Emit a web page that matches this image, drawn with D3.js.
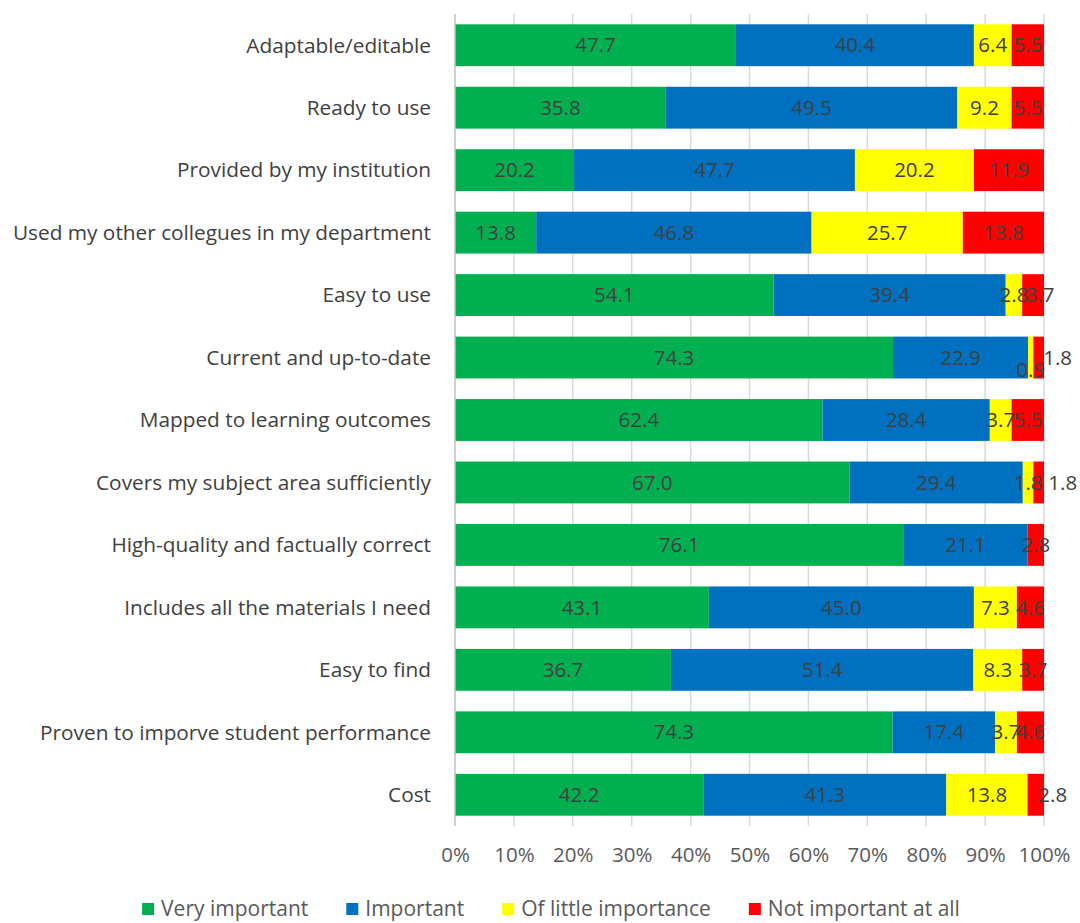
<!DOCTYPE html>
<html>
<head>
<meta charset="utf-8">
<script src="https://cdn.jsdelivr.net/npm/d3@7"></script>
<style>
  body { margin: 0; background: #fff; }
  svg text { font-family: "Open Sans", "Noto Sans", sans-serif; }
</style>
</head>
<body>
<div id="chart"></div>
<script>
var categories = ["Adaptable/editable", "Ready to use", "Provided by my institution",
  "Used my other collegues in my department", "Easy to use", "Current and up-to-date",
  "Mapped to learning outcomes", "Covers my subject area sufficiently",
  "High-quality and factually correct", "Includes all the materials I need",
  "Easy to find", "Proven to imporve student performance", "Cost"];

var seriesNames = ["Very important", "Important", "Of little importance", "Not important at all"];

var veryImportant = [47.7, 35.8, 20.2, 13.8, 54.1, 74.3, 62.4, 67.0, 76.1, 43.1, 36.7, 74.3, 42.2];
var important     = [40.4, 49.5, 47.7, 46.8, 39.4, 22.9, 28.4, 29.4, 21.1, 45.0, 51.4, 17.4, 41.3];
var littleImp     = [6.4, 9.2, 20.2, 25.7, 2.8, 0.9, 3.7, 1.8, 0, 7.3, 8.3, 3.7, 13.8];
var notImportant  = [5.5, 5.5, 11.9, 13.8, 3.7, 1.8, 5.5, 1.8, 2.8, 4.6, 3.7, 4.6, 2.8];

var tickValues = [0, 0.1, 0.2, 0.3, 0.4, 0.5, 0.6, 0.7, 0.8, 0.9, 1];

var colors = ["#00b050", "#0070c0", "#ffff00", "#ff0000"];

// label nudges for the crowded little segments (row, series, dx, dy)
var nudges = [[4, 3, 7, 0], [5, 2, 0, 12], [5, 3, 19, 0], [7, 3, 24, 0], [12, 3, 17, 0]];

var margin = {top: 14, right: 36, bottom: 97, left: 455},
    width = 1080 - margin.left - margin.right,
    height = 923 - margin.top - margin.bottom;

var svg = d3.select("#chart")
  .append("svg")
    .attr("width", 1080)
    .attr("height", 923)
  .append("g")
    .attr("transform", "translate(" + margin.left + "," + margin.top + ")");

var rows = categories.map(function(c, i) {
  var vals = [veryImportant[i], important[i], littleImp[i], notImportant[i]];
  var total = d3.sum(vals);
  var x0 = 0;
  return {cat: c, segs: vals.map(function(v, k) {
    var s = {row: i, key: k, value: v, x0: x0 / total, x1: (x0 + v) / total};
    x0 += v;
    return s;
  })};
});

var x = d3.scaleLinear().domain([0, 1]).range([0, width]);
var y = d3.scaleBand().domain(categories).range([0, height]).paddingInner(0.33).paddingOuter(0.165);

// gridlines
svg.append("g")
  .selectAll("line")
  .data(tickValues.slice(1))
  .enter().append("line")
    .attr("x1", function(d) { return x(d); })
    .attr("x2", function(d) { return x(d); })
    .attr("y1", 0)
    .attr("y2", height)
    .attr("stroke", "#d9d9d9")
    .attr("stroke-width", 1.5);

var row = svg.append("g")
  .selectAll("g")
  .data(rows)
  .enter().append("g")
    .attr("transform", function(d) { return "translate(0," + y(d.cat) + ")"; });

row.selectAll("rect")
  .data(function(d) { return d.segs; })
  .enter().append("rect")
    .attr("x", function(d) { return x(d.x0); })
    .attr("width", function(d) { return x(d.x1) - x(d.x0); })
    .attr("height", y.bandwidth())
    .attr("fill", function(d) { return colors[d.key]; });

function nudge(d, idx) {
  var n = nudges.filter(function(a) { return a[0] === d.row && a[1] === d.key; })[0];
  return n ? n[idx] : 0;
}

row.selectAll("text")
  .data(function(d) { return d.segs.filter(function(s) { return s.value > 0; }); })
  .enter().append("text")
    .attr("x", function(d) { return x((d.x0 + d.x1) / 2) + nudge(d, 2); })
    .attr("y", function(d) { return y.bandwidth() / 2 + nudge(d, 3); })
    .attr("dy", "0.35em")
    .attr("text-anchor", "middle")
    .attr("fill", "#404040")
    .style("font-size", "20.5px")
    .text(function(d) { return d3.format(".1f")(d.value); });

// left axis line
svg.append("line")
  .attr("x1", 0).attr("x2", 0)
  .attr("y1", 0).attr("y2", height)
  .attr("stroke", "#bfbfbf")
  .attr("stroke-width", 1.5);

// category labels
svg.append("g")
  .selectAll("text")
  .data(categories)
  .enter().append("text")
    .attr("x", -24)
    .attr("y", function(d) { return y(d) + y.bandwidth() / 2; })
    .attr("dy", "0.35em")
    .attr("text-anchor", "end")
    .attr("fill", "#404040")
    .style("font-size", "20.8px")
    .text(function(d) { return d; });

// x axis
var xAxis = svg.append("g")
  .attr("transform", "translate(0," + height + ")")
  .call(d3.axisBottom(x).tickValues(tickValues).tickFormat(d3.format(".0%")).tickSize(0).tickPadding(21));
xAxis.select(".domain").remove();
xAxis.selectAll("text")
  .attr("fill", "#595959")
  .style("font-size", "20.5px");

// legend
var legend = svg.append("g")
  .attr("transform", "translate(" + (-margin.left) + "," + (height + 83) + ")");

var items = legend.selectAll("g")
  .data(seriesNames)
  .enter().append("g");

items.append("rect")
  .attr("y", -6)
  .attr("width", 12)
  .attr("height", 12)
  .attr("fill", function(d, i) { return colors[i]; });

items.append("text")
  .attr("x", 19)
  .attr("dy", "0.35em")
  .attr("fill", "#595959")
  .style("font-size", "21px")
  .text(function(d) { return d; });

var widths = [];
items.each(function() { widths.push(this.getBBox().width); });
var gap = 38;
var total = d3.sum(widths) + gap * (widths.length - 1);
var lx = 551 - total / 2;
items.attr("transform", function(d, i) {
  var t = "translate(" + lx + ",0)";
  lx += widths[i] + gap;
  return t;
});
</script>
</body>
</html>
